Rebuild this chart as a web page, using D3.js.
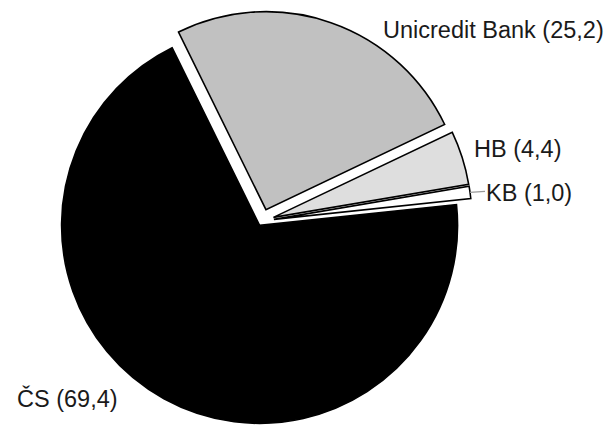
<!DOCTYPE html>
<html>
<head>
<meta charset="utf-8">
<script src="https://cdn.jsdelivr.net/npm/d3@7"></script>
<style>
  html, body { margin: 0; padding: 0; background: #fff; }
  svg { display: block; }
  text { font-family: "Liberation Sans", Arial, Helvetica, sans-serif; }
</style>
</head>
<body>
<svg id="chart" width="614" height="425"></svg>
<script>
// Market shares (%) by bank
const categories = ["Unicredit Bank", "HB", "KB", "ČS"];
const shares = [25.2, 4.4, 1.0, 69.4];
const shareLabels = ["25,2", "4,4", "1,0", "69,4"];

// Appearance
const fills = ["#c1c1c1", "#dedede", "#ffffff", "#000000"];
const explode = [12, 12, 12, 5];           // radial pull-out per slice, px
const labelOffsets = [[121, -183], [212, -64], [224, -20], [-245, 186]]; // from pie centre
const width = 614, height = 425;
const cx = 262, cy = 221, radius = 198;
const startDeg = -26.2;

const svg = d3.select("#chart");
const g = svg.append("g").attr("transform", `translate(${cx},${cy})`);

const data = categories.map((c, i) => ({ name: c, value: shares[i], idx: i }));
const toRad = d => d * Math.PI / 180;

const pie = d3.pie()
  .sort(null)
  .value(d => d.value)
  .startAngle(toRad(startDeg))
  .endAngle(toRad(startDeg) + 2 * Math.PI);

const arc = d3.arc().innerRadius(0).outerRadius(radius);
const arcs = pie(data);

const shift = (d, r) => {
  const a = (d.startAngle + d.endAngle) / 2;
  return [Math.sin(a) * r, -Math.cos(a) * r];
};

g.selectAll("path.slice")
  .data(arcs)
  .join("path")
  .attr("class", "slice")
  .attr("d", arc)
  .attr("transform", d => { const [x, y] = shift(d, explode[d.data.idx]); return `translate(${x},${y})`; })
  .attr("fill", d => fills[d.data.idx])
  .attr("stroke", "#000")
  .attr("stroke-width", 1.6)
  .attr("stroke-linejoin", "miter");

// leader line for the thin KB slice
const kb = arcs[2];
const [kx, ky] = shift(kb, radius + explode[2]);
g.append("line")
  .attr("x1", kx).attr("y1", ky)
  .attr("x2", labelOffsets[2][0] - 1).attr("y2", ky - 1)
  .attr("stroke", "#999").attr("stroke-width", 1.2);

g.selectAll("text.lbl")
  .data(arcs)
  .join("text")
  .attr("class", "lbl")
  .attr("x", d => labelOffsets[d.data.idx][0])
  .attr("y", d => labelOffsets[d.data.idx][1])
  .attr("font-size", 23.5)
  .attr("fill", "#1a1a1a")
  .text(d => `${d.data.name} (${shareLabels[d.data.idx]})`);
</script>
</body>
</html>
